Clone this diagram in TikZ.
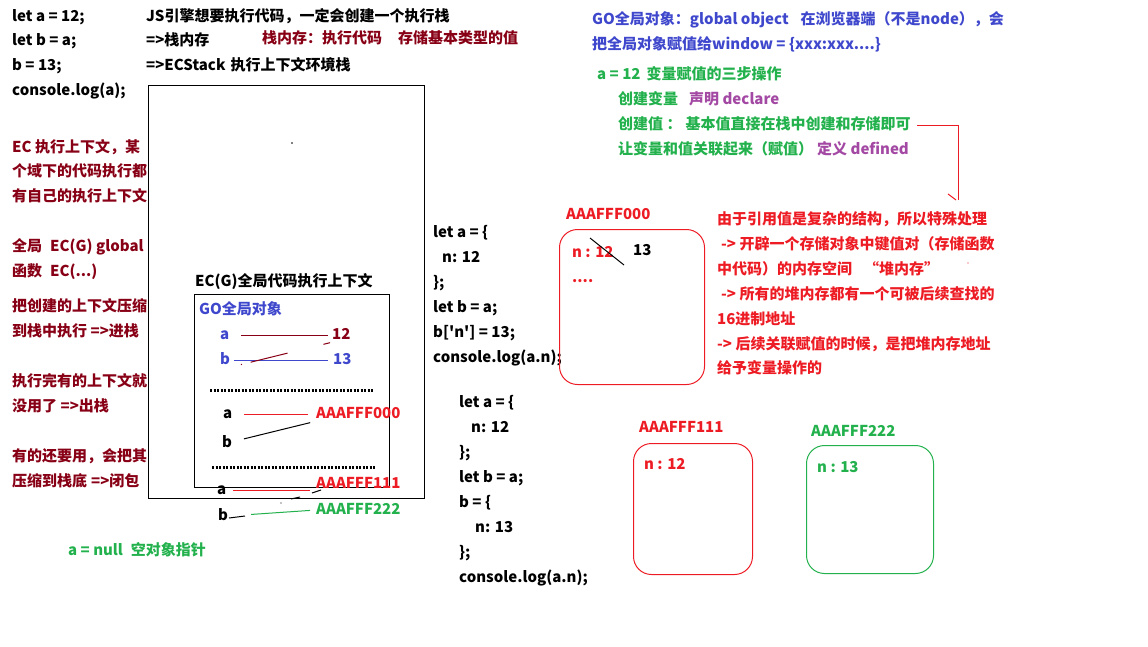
\documentclass[tikz,border=0pt]{standalone}
\usepackage{fontspec}
\newfontfamily\yahei{Noto Sans CJK SC}
\usepackage{xcolor}
\usepackage{tikz}
\usetikzlibrary{arrows.meta, positioning}

\definecolor{mpred}{HTML}{ED1C24}
\definecolor{mpgreen}{HTML}{22B14C}
\definecolor{mpblue}{HTML}{3F48CC}
\definecolor{mppurple}{HTML}{A349A4}
\definecolor{mpdark}{HTML}{880015}

\begin{document}
\begin{tikzpicture}[x=1pt, y=-1pt,
      txt/.style={anchor=west, inner sep=0pt, text height=11pt, text depth=3pt, font=\yahei\bfseries\fontsize{15}{18}\selectfont},
      code/.style={txt, text=black},
      note/.style={txt, text=mpdark},
      heapnote/.style={txt, text=mpred},
      gonote/.style={txt, text=mpblue},
      stepnote/.style={txt, text=mpgreen},
      termnote/.style={txt, text=mppurple},
      frame/.style={draw, line width=1pt, anchor=north west, inner sep=0pt},
      heapbox/.style={draw, line width=1pt, rounded corners=18pt, anchor=north west, inner sep=0pt},
      link/.style={line width=1pt},
      sep/.style={line width=3pt, dash pattern=on 2.2pt off 1.3pt}
      ]
    \useasboundingbox (0,0) rectangle (1148,646);

    % Code at top left
    \node[code] (c1) at (12,17) {let a = 12;};
    \node[code] (c2) at (12,41) {let b = a;};
    \node[code] (c3) at (12,66) {b = 13;};
    \node[code] (c4) at (12,91) {console.log(a);};

    % Stack notes
    \node[code] (js) at (146,17) {JS引擎想要执行代码，一定会创建一个执行栈};
    \node[code] (stk) at (146,41) {=>栈内存};
    \node[note] (stkmem) at (262,39) {栈内存：执行代码};
    \node[note] (stkval) at (398,39) {存储基本类型的值};
    \node[code] (ecs) at (146,66) {=>ECStack\hspace{5pt}执行上下文环境栈};

    % Left column
    \node[note] (e1) at (12,148) {EC 执行上下文，某};
    \node[note] (e2) at (12,172) {个域下的代码执行都};
    \node[note] (e3) at (12,197) {有自己的执行上下文};
    \node[note] (e4) at (12,247) {全局\hspace{8pt}EC(G) global};
    \node[note] (e5) at (12,272) {函数\hspace{8pt}EC(...)};
    \node[note] (e6) at (12,307) {把创建的上下文压缩};
    \node[note] (e7) at (12,332) {到栈中执行 =>进栈};
    \node[note] (e8) at (12,382) {执行完有的上下文就};
    \node[note] (e9) at (12,407) {没用了 =>出栈};
    \node[note] (e10) at (12,457) {有的还要用，会把其};
    \node[note] (e11) at (12,482) {压缩到栈底\hspace{4pt}=>闭包};
    \node[stepnote] (null) at (68,551) {a = null\hspace{8pt}空对象指针};

    % Stack frames
    \node[frame, minimum width=276pt, minimum height=413pt] (ecstack) at (148,85) {};
    \node[code] (ecglab) at (195,282) {EC(G)全局代码执行上下文};
    \node[frame, minimum width=195pt, minimum height=193pt] (ecg) at (194,294) {};
    \node[gonote] (golab) at (199,310) {GO全局对象};
    \fill (292,143) circle (0.8pt);

    % GO variables
    \node[gonote] (ga) at (220,335) {a};
    \node[note] (g12) at (332,335) {12};
    \node[gonote] (gb) at (220,360) {b};
    \node[gonote] (g13) at (333,360) {13};
    \draw[link, mpdark, shorten <=12pt, shorten >=4pt] (ga) -- (g12);
    \draw[link, mpblue, shorten <=4pt, shorten >=5pt] (gb) -- (g13);
    \draw[link, mpdark, shorten <=11pt, shorten >=2pt, dash pattern=on 1pt off 9pt on 38pt off 37pt on 10pt] (gb.south east) -- (g12.south west);
    \draw[sep] (210,390) -- (373,390);

    % Object references
    \node[code] (sa) at (223,414) {a};
    \node[heapnote] (s000) at (316,414) {AAAFFF000};
    \node[code] (sb) at (222,443) {b};
    \draw[link, mpred, shorten <=12pt, shorten >=8pt] (sa) -- (s000);
    \draw[link, shorten <=12pt, shorten >=6pt] (sb) -- (s000.south west);
    \draw[sep] (212,467) -- (375,467);

    \node[code] (oa) at (217,490) {a};
    \node[heapnote] (o111) at (316,484) {AAAFFF111};
    \node[code] (ob) at (218,516) {b};
    \node[stepnote] (o222) at (316,510) {AAAFFF222};
    \draw[link, mpred, shorten <=7pt, shorten >=6pt] (oa.east) -- (oa.east -| o111.west);
    \draw[link, mpgreen, shorten <=23pt, shorten >=6pt] (ob.east) -- (o222.west);
    \draw[link] (229,518) -- (245,516);
    \draw[link] (312,493) -- (321,490);
    \draw[link] (291,499) -- (300,497);
    \fill (281,503) circle (0.7pt);

    % Code in the middle
    \node[code] (m1) at (433,233) {let a = \{};
    \node[code] (m2) at (442,258) {n: 12};
    \node[code] (m3) at (433,283) {\};};
    \node[code] (m4) at (433,308) {let b = a;};
    \node[code] (m5) at (433,333) {b['n'] = 13;};
    \node[code] (m6) at (433,358) {console.log(a.n);};

    \node[code] (k1) at (459,403) {let a = \{};
    \node[code] (k2) at (471,428) {n: 12};
    \node[code] (k3) at (459,453) {\};};
    \node[code] (k4) at (459,478) {let b = a;};
    \node[code] (k5) at (459,503) {b = \{};
    \node[code] (k6) at (475,528) {n: 13};
    \node[code] (k7) at (459,553) {\};};
    \node[code] (k8) at (459,578) {console.log(a.n);};

    % Heap boxes
    \node[heapnote] (h000lab) at (566,215) {AAAFFF000};
    \node[heapbox, draw=mpred, minimum width=145pt, minimum height=155pt] (h000) at (559,229) {};
    \node[heapnote] (h000n) at (572,253) {n : 12};
    \node[code] (h000new) at (633,251) {13};
    \node[heapnote] (h000more) at (572,278) {....};
    \draw[link] (590,238) -- (624,265);

    \node[heapnote] (h111lab) at (639,428) {AAAFFF111};
    \node[heapbox, draw=mpred, minimum width=119pt, minimum height=131pt] (h111) at (633,443) {};
    \node[heapnote] (h111n) at (644,465) {n : 12};

    \node[stepnote] (h222lab) at (811,432) {AAAFFF222};
    \node[heapbox, draw=mpgreen, minimum width=127pt, minimum height=128pt] (h222) at (806,445) {};
    \node[stepnote] (h222n) at (817,468) {n : 13};

    % Notes on the right
    \node[gonote] (go1) at (592,20) {GO全局对象：global object\hspace{12pt}在浏览器端（不是node），会};
    \node[gonote] (go2) at (592,45) {把全局对象赋值给window = \{xxx:xxx....\}};
    \node[stepnote] (s1) at (597,75) {a = 12\hspace{6pt}变量赋值的三步操作};
    \node[stepnote] (s2) at (618,100) {创建变量};
    \node[termnote] (t2) at (689,100) {声明 declare};
    \node[stepnote] (s3) at (618,125) {创建值 ：\hspace{4pt}基本值直接在栈中创建和存储即可};
    \node[stepnote] (s4) at (618,150) {让变量和值关联起来（赋值）};
    \node[termnote] (t4) at (817,150) {定义 defined};
    \coordinate (bend) at (958,200);
    \draw[link, mpred, shorten <=6pt] (s3.east) -| (bend);
    \draw[link, mpred] ([xshift=-2pt]bend) -- ++(-8,-6);

    \node[heapnote] (r1) at (717,220) {由于引用值是复杂的结构，所以特殊处理};
    \node[heapnote] (r2) at (721,245) {-> 开辟一个存储对象中键值对（存储函数};
    \node[heapnote] (r3) at (717,270) {中代码）的内存空间\hspace{12pt}“堆内存”};
    \node[heapnote] (r4) at (721,295) {-> 所有的堆内存都有一个可被后续查找的};
    \node[heapnote] (r5) at (717,320) {16进制地址};
    \node[heapnote] (r6) at (717,345) {-> 后续关联赋值的时候，是把堆内存地址};
    \node[heapnote] (r7) at (717,369) {给予变量操作的};
    \fill[mpred] (968,263) circle (0.7pt);

\end{tikzpicture}
\end{document}
